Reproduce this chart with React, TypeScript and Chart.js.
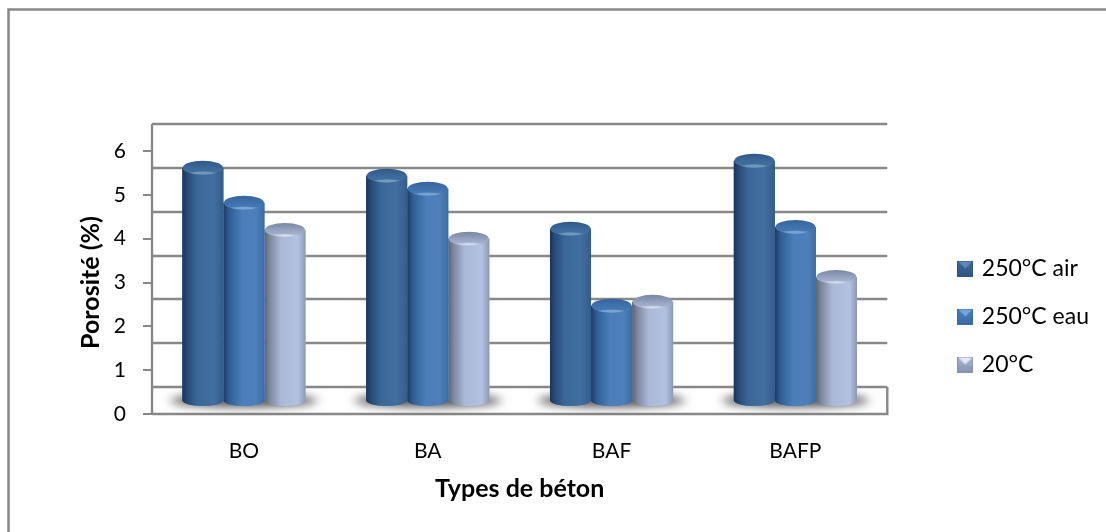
import React, { useEffect, useRef } from "react";
import { Chart, registerables } from "chart.js";

Chart.register(...registerables);

const categories = ["BO", "BA", "BAF", "BAFP"];
const seriesNames = ["250°C air", "250°C eau", "20°C"];
const air250 = [5.31, 5.13, 3.92, 5.47];
const eau250 = [4.51, 4.83, 2.16, 3.96];
const temp20 = [3.89, 3.69, 2.25, 2.82];
const yTicks = [0, 1, 2, 3, 4, 5, 6];

const LINE = "#888888";
const FONT = "Lato";
const DEPTH = 27;

type Stops = [number, string][];
const bodyStops: Stops[] = [
  [[0, "#1c3557"], [0.12, "#274a74"], [0.35, "#386798"], [0.75, "#426f9f"], [1, "#345c8a"]],
  [[0, "#1d3a60"], [0.14, "#2f5e94"], [0.45, "#4a7db9"], [0.8, "#4d80bb"], [1, "#3c6ca4"]],
  [[0, "#5e6571"], [0.14, "#8089a0"], [0.4, "#aab9d8"], [0.82, "#b2c1e0"], [1, "#8b99b6"]],
];
const capStops: Stops[] = [
  [[0, "#2f5885"], [0.55, "#3c6a9c"], [1, "#44749f"]],
  [[0, "#36659d"], [0.55, "#4073ad"], [1, "#4a7eb8"]],
  [[0, "#7985a0"], [0.55, "#98a5c2"], [1, "#aab8d6"]],
];
const capGlow = ["rgba(100,145,195,0.85)", "rgba(115,165,225,0.85)", "rgba(225,232,246,0.85)"];
const baseColors = ["#3a6a9e", "#4a7db9", "#aab9d8"];
const markerDark = ["#2f5680", "#3a6ca6", "#8794ae"];
const markerLight = ["#5d88b8", "#74a4dc", "#e2e8f4"];

function makeMarker(i: number) {
  const c = document.createElement("canvas");
  c.width = 16;
  c.height = 16;
  const g = c.getContext("2d")!;
  const grad = g.createLinearGradient(0, 0, 0, 16);
  grad.addColorStop(0, baseColors[i]);
  grad.addColorStop(1, markerDark[i]);
  g.fillStyle = grad;
  g.fillRect(0, 0, 16, 16);
  g.fillStyle = markerLight[i];
  g.beginPath();
  g.moveTo(1, 1);
  g.lineTo(15, 1);
  g.lineTo(8, 8);
  g.closePath();
  g.fill();
  g.strokeStyle = markerDark[i];
  g.lineWidth = 1;
  g.strokeRect(0.5, 0.5, 15, 15);
  return c;
}

function hGrad(ctx: CanvasRenderingContext2D, x0: number, x1: number, stops: Stops) {
  const g = ctx.createLinearGradient(x0, 0, x1, 0);
  stops.forEach(([o, col]) => g.addColorStop(o, col));
  return g;
}

const framePlugin = {
  id: "frame",
  afterLayout(chart: any) {
    const l = chart.legend;
    const dy = -25;
    const dx = 48;
    l.top += dy;
    l.bottom += dy;
    l.left += dx;
    l.right += dx;
  },
  beforeDraw(chart: any) {
    const { ctx } = chart;
    ctx.save();
    ctx.fillStyle = "#ffffff";
    ctx.fillRect(0, 0, chart.width, chart.height);
    ctx.strokeStyle = LINE;
    ctx.lineWidth = 2.5;
    ctx.beginPath();
    ctx.moveTo(8.5, chart.height);
    ctx.lineTo(8.5, 9.5);
    ctx.lineTo(chart.width, 9.5);
    ctx.stroke();
    ctx.restore();
  },
  beforeDatasetsDraw(chart: any) {
    const { ctx, chartArea } = chart;
    const y = chart.scales.y;
    const { left, right } = chartArea;
    ctx.save();
    ctx.strokeStyle = LINE;
    ctx.lineWidth = 2.4;
    yTicks.forEach((v) => {
      const py = Math.round(y.getPixelForValue(v)) - DEPTH;
      ctx.beginPath();
      ctx.moveTo(left, py);
      ctx.lineTo(right, py);
      ctx.stroke();
    });
    const front = Math.round(y.getPixelForValue(0));
    ctx.beginPath();
    ctx.moveTo(right, front - DEPTH);
    ctx.lineTo(right, front);
    ctx.lineTo(left, front);
    ctx.stroke();
    ctx.beginPath();
    ctx.moveTo(left, front);
    ctx.lineTo(left, y.getPixelForValue(6) - DEPTH);
    ctx.stroke();

    const metas = chart.getSortedVisibleDatasetMetas();
    categories.forEach((_, i) => {
      const first = metas[0].data[i];
      const last = metas[metas.length - 1].data[i];
      const x0 = first.x - first.width / 2;
      const x1 = last.x + last.width / 2;
      ctx.save();
      ctx.filter = "blur(5px)";
      ctx.fillStyle = "rgba(60,60,60,0.9)";
      ctx.beginPath();
      ctx.ellipse((x0 + x1) / 2, first.base, (x1 - x0) / 2 + 12, 6.5, 0, 0, Math.PI * 2);
      ctx.fill();
      ctx.restore();
    });
    ctx.restore();
  },
  afterDatasetDraw(chart: any, args: any) {
    const { ctx } = chart;
    const s = args.index;
    const meta = chart.getDatasetMeta(s);
    meta.data.forEach((el: any) => {
      const x0 = el.x - el.width / 2;
      const x1 = el.x + el.width / 2;
      const rx = el.width / 2;
      const ry = 7;
      ctx.save();
      ctx.fillStyle = hGrad(ctx, x0, x1, bodyStops[s]);
      ctx.beginPath();
      ctx.moveTo(x0, el.y);
      ctx.lineTo(x1, el.y);
      ctx.lineTo(x1, el.base);
      ctx.ellipse(el.x, el.base, rx, 5.5, 0, 0, Math.PI);
      ctx.closePath();
      ctx.fill();
      const capGrad = ctx.createLinearGradient(0, el.y - ry, 0, el.y + ry);
      capStops[s].forEach(([o, col]) => capGrad.addColorStop(o, col));
      ctx.fillStyle = capGrad;
      ctx.beginPath();
      ctx.ellipse(el.x, el.y, rx - 0.5, ry, 0, 0, Math.PI * 2);
      ctx.fill();
      ctx.clip();
      ctx.save();
      ctx.translate(el.x, el.y + ry - 1.5);
      ctx.scale(1, 0.14);
      const glow = ctx.createRadialGradient(0, 0, 0, 0, 0, rx * 0.75);
      glow.addColorStop(0, capGlow[s]);
      glow.addColorStop(1, "rgba(255,255,255,0)");
      ctx.fillStyle = glow;
      ctx.beginPath();
      ctx.arc(0, 0, rx * 0.75, 0, Math.PI * 2);
      ctx.fill();
      ctx.restore();
      ctx.restore();
    });
  },
};

export default function App() {
  const ref = useRef<HTMLCanvasElement>(null);
  useEffect(() => {
    const markers = seriesNames.map((_, i) => makeMarker(i));
    const values = [air250, eau250, temp20];
    const tickFont = { family: FONT, size: 21 };
    const legendFont = { family: FONT, size: 23 };
    const titleFont = { family: FONT, size: 25, weight: "bold" };
    const chart = new Chart(ref.current!, {
      type: "bar",
      data: {
        labels: categories,
        datasets: seriesNames.map((label, i) => ({
          label,
          data: values[i],
          backgroundColor: baseColors[i],
          yAxisID: "yBars",
          categoryPercentage: 0.67,
          barPercentage: 1,
        })),
      },
      options: {
        responsive: false,
        animation: false,
        layout: { padding: { top: 151, right: 55, left: 0, bottom: 0 } },
        plugins: {
          tooltip: { enabled: false },
          title: { display: false },
          legend: {
            position: "right",
            labels: {
              usePointStyle: true,
              pointStyleWidth: 10,
              padding: 25,
              color: "#000",
              font: legendFont,
              generateLabels: () =>
                seriesNames.map((text, i) => ({
                  text,
                  pointStyle: markers[i],
                  fontColor: "#000",
                  datasetIndex: i,
                  hidden: false,
                  lineWidth: 0,
                })),
            },
          },
        },
        scales: {
          x: {
            grid: { display: false, drawTicks: false },
            border: { display: false },
            ticks: { color: "#000", font: tickFont, padding: 25 },
            title: {
              display: true,
              text: "Types de béton",
              color: "#000",
              font: titleFont,
              padding: { top: 0, bottom: 28 },
            },
            afterFit: (s: any) => {
              s.height = 118;
            },
          },
          y: {
            min: 0,
            max: 6,
            afterFit: (s: any) => {
              s.width = 152;
            },
            afterBuildTicks: (s: any) => {
              s.ticks = yTicks.map((value) => ({ value }));
            },
            grid: { drawOnChartArea: false, color: LINE, tickLength: 9, lineWidth: 2 },
            border: { color: LINE, width: 2 },
            ticks: { color: "#000", font: tickFont, padding: 17 },
            title: {
              display: true,
              text: "Porosité (%)",
              color: "#000",
              font: titleFont,
              padding: { top: 76, bottom: 0 },
            },
          },
          yBars: {
            display: false,
            min: -0.308,
            max: 5.692,
          },
        },
      },
      plugins: [framePlugin],
    } as any);
    return () => chart.destroy();
  }, []);
  return (
    <div style={{ position: "fixed", left: 0, top: 0 }}>
      <canvas ref={ref} width={1106} height={532} style={{ display: "block" }} />
    </div>
  );
}
